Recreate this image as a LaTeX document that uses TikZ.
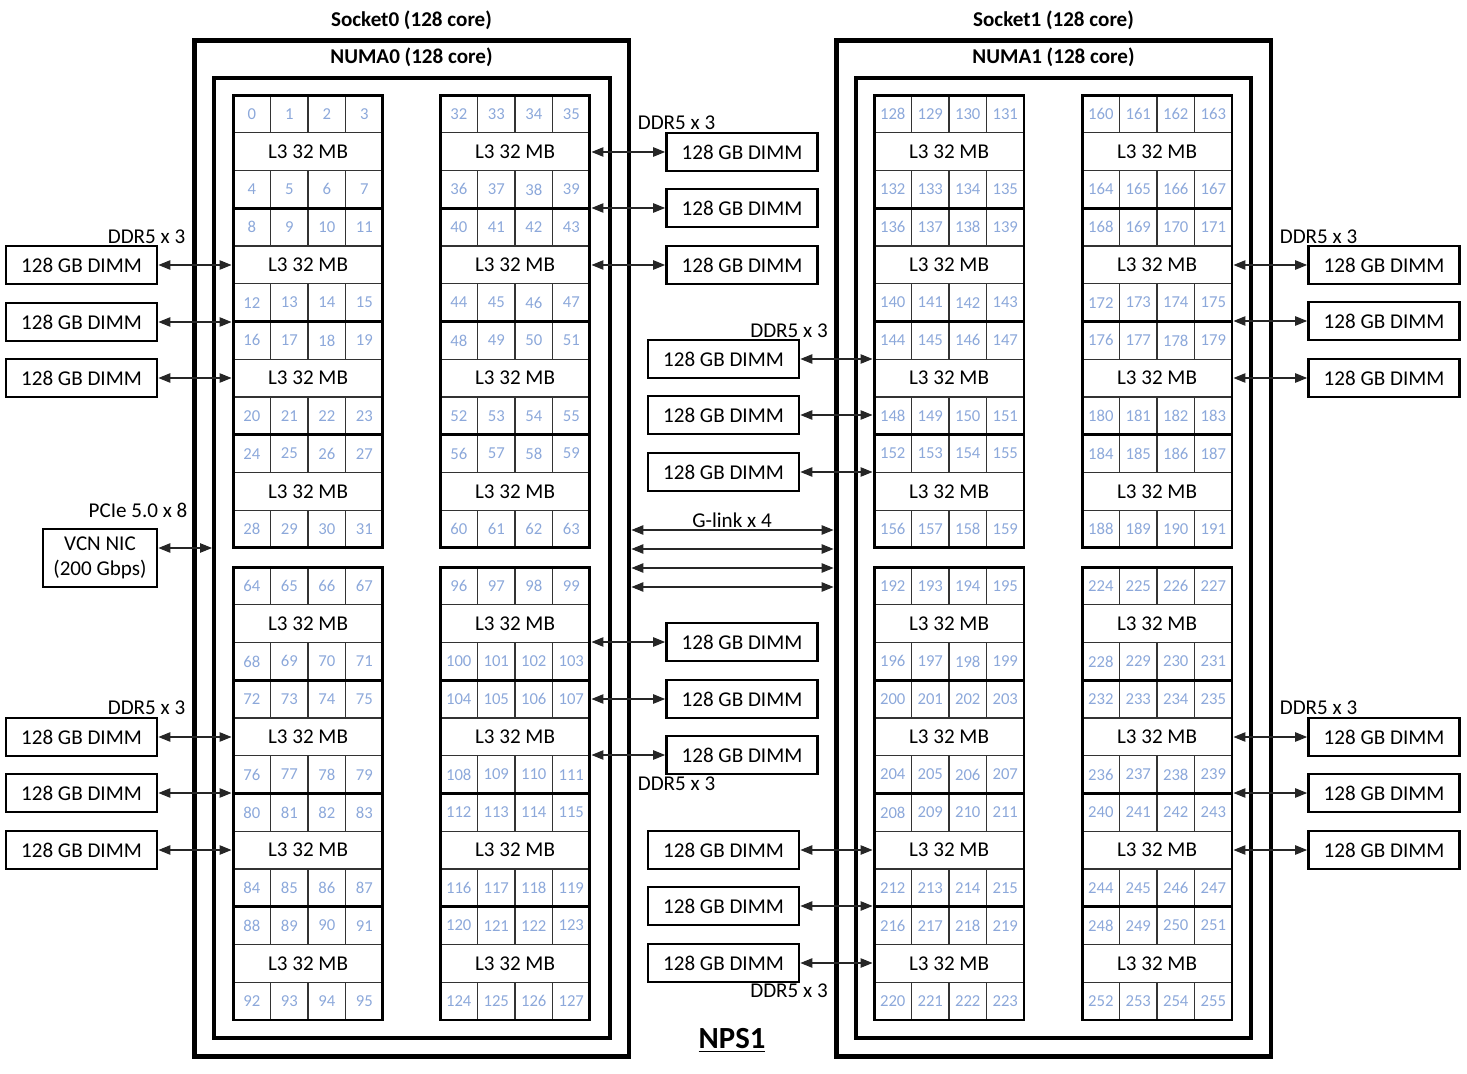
\documentclass[tikz,border=0pt]{standalone}
\usepackage{fontspec}
\setmainfont{Carlito}
\usetikzlibrary{arrows.meta}
\definecolor{corenum}{HTML}{8CA8DA}
\tikzset{
	core/.style={draw=black!80, line width=0.6pt, minimum width=0.75cm, minimum height=0.755cm, inner sep=0pt, text=corenum, font=\fontsize{9.5}{10}\selectfont},
	cache/.style={draw=black!80, line width=0.6pt, minimum width=3cm, minimum height=0.755cm, inner sep=0pt, font=\fontsize{12}{14}\selectfont},
	ccd/.style={draw, line width=1.7pt, minimum width=3cm, minimum height=2.265cm, inner sep=0pt},
	skt/.style={draw, line width=2.8pt, minimum width=8.7cm, minimum height=20.34cm, inner sep=0pt},
	numa/.style={draw, line width=2.3pt, minimum width=7.92cm, minimum height=19.2cm, inner sep=0pt},
	dimm/.style={draw, line width=1.6pt, minimum width=3.02cm, minimum height=0.76cm, inner sep=0pt, font=\fontsize{12}{14}\selectfont},
	lbl/.style={font=\fontsize{12}{14}\selectfont, inner sep=0pt},
	title/.style={font=\bfseries\fontsize{12}{14}\selectfont, inner sep=0pt},
	lnk/.style={{Triangle[length=2.4mm,width=1.9mm]}-{Triangle[length=2.4mm,width=1.9mm]}, draw=black!85, line width=0.6pt},
}

\begin{document}
\begin{tikzpicture}[x=0.02cm,y=-0.02cm]
		\useasboundingbox (0,0) rectangle (1467,1074);
		% sockets and numa nodes
		\node[skt] (sk0) at (411.5,548.5) {};
		\node[skt] (sk1) at (1053.5,548.5) {};
		\node[numa] (nm0) at (412,558) {};
		\node[numa] (nm1) at (1053.5,558) {};
		\node[title] (tsk0) at (411.5,20) {Socket0 (128 core)};
		\node[title] (tsk1) at (1053.5,20) {Socket1 (128 core)};
		\node[title] (tnm0) at (411.5,57) {NUMA0 (128 core)};
		\node[title] (tnm1) at (1053.5,57) {NUMA1 (128 core)};
		% ccd blocks: cores, L3, frame
		\foreach \gx/\gy/\base/\nm in {233/95/0/a, 440/95/32/b, 233/567/64/c, 440/567/96/d, 874/95/128/e, 1082/95/160/f, 874/567/192/g, 1082/567/224/h}
		\foreach \b in {0,...,3}{
			\pgfmathsetmacro\by{\gy+113.25*\b}
			\foreach \i in {0,...,3}{
				\pgfmathtruncatemacro\ctop{\base+8*\b+\i}
				\pgfmathtruncatemacro\cbot{\ctop+4}
				\node[core] (c\ctop) at ({\gx+18.75+37.5*\i},{\by+18.875}) {\ctop};
				\node[core] (c\cbot) at ({\gx+18.75+37.5*\i},{\by+94.375}) {\cbot};
			}
			\node[cache] (l3\nm\b) at ({\gx+75},{\by+56.625}) {L3 32 MB};
			\node[ccd] (ccd\nm\b) at ({\gx+75},{\by+56.625}) {};
		}
		% dimms
		\foreach \y [count=\k] in {265,322,378,737,793,850}
		\node[dimm] (dl\k) at (81.5,\y) {128 GB DIMM};
		\foreach \y [count=\k] in {152,208,265,642,699,755}
		\node[dimm] (dc\k) at (742,\y) {128 GB DIMM};
		\foreach \y [count=\k] in {359,415,472,850,906,963}
		\node[dimm] (dd\k) at (723.5,\y) {128 GB DIMM};
		\foreach \y [count=\k] in {265,321,378,737,793,850}
		\node[dimm] (dr\k) at (1384,\y) {128 GB DIMM};
		\node[dimm, minimum width=2.28cm, minimum height=1.16cm, align=center] (nic) at (100,558) {VCN NIC\\(200 Gbps)};
		% memory channels
		\foreach \k in {1,2,3}{
			\draw[lnk] (dl\k.east) -- (dl\k.east -| ccda0.west);
			\draw[lnk] (dc\k.west) -- (dc\k.west -| ccdb0.east);
			\draw[lnk] (dd\k.east) -- (dd\k.east -| ccde0.west);
			\draw[lnk] (dr\k.west) -- (dr\k.west -| ccdf0.east);
		}
		\foreach \k in {4,5,6}{
			\draw[lnk] (dl\k.east) -- (dl\k.east -| ccdc0.west);
			\draw[lnk] (dc\k.west) -- (dc\k.west -| ccdd0.east);
			\draw[lnk] (dd\k.east) -- (dd\k.east -| ccdg0.west);
			\draw[lnk] (dr\k.west) -- (dr\k.west -| ccdh0.east);
		}
		% pcie and g-links
		\coordinate (pcie) at (213,548);
		\draw[lnk] (nic.east |- pcie) -- (pcie -| nm0.west);
		\foreach \y [count=\k] in {530,549,568,587}{
			\coordinate (gl\k) at (732,\y);
			\draw[lnk] (gl\k -| sk0.east) -- (gl\k -| sk1.west);
		}
		% labels
		\node[lbl] (ddr1) at (146.5,237) {DDR5 x 3};
		\node[lbl] (ddr2) at (146.5,708) {DDR5 x 3};
		\node[lbl] (ddr3) at (676.5,123) {DDR5 x 3};
		\node[lbl] (ddr4) at (676.5,784) {DDR5 x 3};
		\node[lbl] (ddr5) at (789,331) {DDR5 x 3};
		\node[lbl] (ddr6) at (789,991) {DDR5 x 3};
		\node[lbl] (ddr7) at (1318.5,237) {DDR5 x 3};
		\node[lbl] (ddr8) at (1318.5,708) {DDR5 x 3};
		\node[lbl] (pcielbl) at (138,510) {PCIe 5.0 x 8};
		\node[lbl] (gllbl) at (732,520) {G-link x 4};
		\node[font=\bfseries\fontsize{17.5}{20}\selectfont, inner sep=0pt] (nps) at (732,1040) {\underline{NPS1}};
	\end{tikzpicture}
\end{document}
